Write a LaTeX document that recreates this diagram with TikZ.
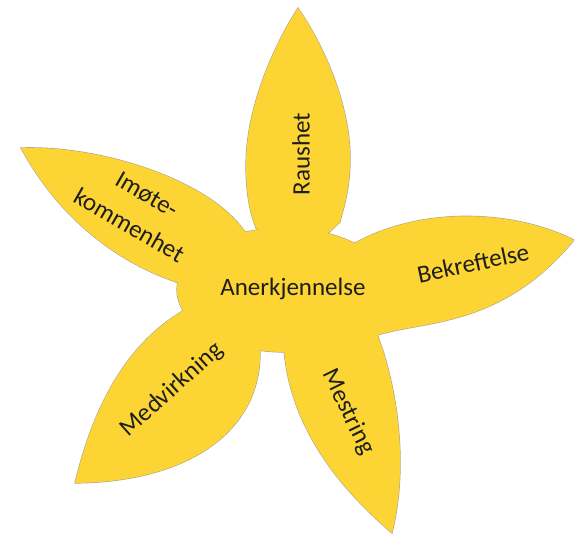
\documentclass[tikz,border=0pt]{standalone}
\usepackage{fontspec}
\setmainfont{Carlito}
\definecolor{petal}{RGB}{252,213,52}
\definecolor{outl}{RGB}{175,165,140}
\definecolor{txt}{RGB}{30,30,30}
\newcommand\flowerparts[1]{%
  % top petal
  \path[#1] (298,8) .. controls (330,55) and (352,115) .. (350,165)
     .. controls (349,195) and (342,212) .. (340,222) -- (300,260) -- (256,228)
     .. controls (249,210) and (246,190) .. (246,165)
     .. controls (246,115) and (268,55) .. (298,8) -- cycle;
  % right petal
  \path[#1] (340,252) .. controls (410,205) and (510,208) .. (574,240)
     .. controls (500,330) and (420,320) .. (375,336) -- (300,300) -- cycle;
  % lower right petal
  \path[#1] (392,533) .. controls (330,480) and (290,420) .. (284,350)
     -- (330,300) -- (377,334) .. controls (395,380) and (410,460) .. (392,533) -- cycle;
  % lower left petal
  \path[#1] (75,483) .. controls (95,400) and (130,340) .. (188,308)
     -- (250,300) -- (260,350) .. controls (262,430) and (190,482) .. (75,483) -- cycle;
  % left petal
  \path[#1] (21,148) .. controls (100,145) and (210,180) .. (245,232)
     -- (240,280) -- (185,285) .. controls (120,265) and (60,220) .. (21,148) -- cycle;
  % centre
  \path[#1] (284,290) ellipse [x radius=107, y radius=62];
}
\begin{document}
\begin{tikzpicture}[x=1pt,y=-1pt,
  lbl/.style={text=txt, font=\fontsize{25}{36}\selectfont, inner sep=0pt}]
\useasboundingbox (0,0) rectangle (574,534);
\flowerparts{draw=outl, line width=1.2pt}
\flowerparts{fill=petal}
\node[lbl] (anerk) at (293,289) {Anerkjennelse};
\node[lbl, rotate=90] (raushet) at (301,154) {Raushet};
\node[lbl, rotate=12] (bekr) at (473,263) {Bekreftelse};
\node[lbl, rotate=-64] (mestr) at (348,412) {Mestring};
\node[lbl, rotate=42] (medv) at (172,390) {Medvirkning};
\node[lbl, rotate=-30, align=center] (imote) at (138,210) {Imøte-\\kommenhet};
\end{tikzpicture}
\end{document}
